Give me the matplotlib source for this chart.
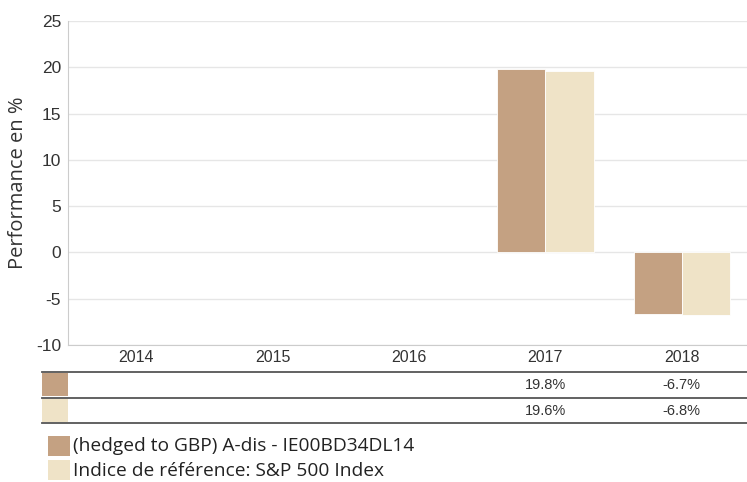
import matplotlib.pyplot as plt
from matplotlib.patches import Rectangle

years = ["2014", "2015", "2016", "2017", "2018"]
fund = [None, None, None, 19.8, -6.7]
index = [None, None, None, 19.6, -6.8]
fund_name = "(hedged to GBP) A-dis - IE00BD34DL14"
index_name = "Indice de référence: S&P 500 Index"
yticks = [-10, -5, 0, 5, 10, 15, 20, 25]

c_fund = "#c4a182"
c_index = "#efe3c7"

W, H = 747, 482
fig = plt.figure(figsize=(W / 100, H / 100), dpi=100)


def box(x0, y0, x1, y1):
    # pixel box (top-left origin) -> figure fraction
    return [x0 / W, 1 - y1 / H, (x1 - x0) / W, (y1 - y0) / H]


ax = fig.add_axes(box(68, 21, 750, 345))
n = len(years)
bw = 0.353
for i in range(n):
    if fund[i] is not None:
        ax.bar(i - bw / 2, fund[i], width=bw, color=c_fund, edgecolor="white", linewidth=0.6, zorder=3)
    if index[i] is not None:
        ax.bar(i + bw / 2, index[i], width=bw, color=c_index, edgecolor="white", linewidth=0.6, zorder=3)

ax.set_xlim(-0.5, n - 0.5)
ax.set_ylim(-10, 25)
ax.set_yticks(yticks)
ax.set_yticklabels([str(t) for t in yticks], fontsize=12.5, color="#333333", family="Liberation Sans")
ax.set_xticks([])
ax.grid(axis="y", color="#e6e6e6", linewidth=1, zorder=0)
ax.tick_params(axis="y", length=0, pad=5)
for s in ["top", "right"]:
    ax.spines[s].set_visible(False)
ax.spines["left"].set_color("#cccccc")
ax.spines["bottom"].set_color("#cccccc")
ax.set_ylabel("Performance en %", fontsize=14.5, color="#333333", labelpad=6, family="Open Sans")

# table under the chart
tab = fig.add_axes(box(68, 345, 750, 423))
tab.set_xlim(-0.5, n - 0.5)
tab.set_ylim(3, 0)
tab.axis("off")
row_y = [0.5, 1.55, 2.55]
for i, y in enumerate(years):
    tab.text(i, row_y[0], y, ha="center", va="center", fontsize=11.5, color="#333333", family="Liberation Sans")
    if fund[i] is not None:
        tab.text(i, row_y[1], f"{fund[i]:.1f}%", ha="center", va="center", fontsize=10.5, color="#333333", family="Liberation Sans")
    if index[i] is not None:
        tab.text(i, row_y[2], f"{index[i]:.1f}%", ha="center", va="center", fontsize=10.5, color="#333333", family="Liberation Sans")

x_left = -0.5 - 26 / 136.4
for yy in [1.04, 2.02, 3.0]:
    tab.plot([x_left, n - 0.5], [yy, yy], color="#555555", linewidth=1.3, clip_on=False)
for yy, c in [(1.08, c_fund), (2.06, c_index)]:
    tab.add_patch(Rectangle((x_left, yy), 26 / 136.4, 0.9, color=c, clip_on=False, linewidth=0))

# legend
fig.patches.append(Rectangle((48 / W, 1 - 456 / H), 22 / W, 20 / H, transform=fig.transFigure, color=c_fund, linewidth=0))
fig.patches.append(Rectangle((48 / W, 1 - 480 / H), 22 / W, 20 / H, transform=fig.transFigure, color=c_index, linewidth=0))
fig.text(73 / W, 1 - 446 / H, fund_name, ha="left", va="center", fontsize=13.8, color="#222222", family="Open Sans")
fig.text(73 / W, 1 - 471 / H, index_name, ha="left", va="center", fontsize=13.8, color="#222222", family="Open Sans")

fig.savefig("out.png", dpi=100)
